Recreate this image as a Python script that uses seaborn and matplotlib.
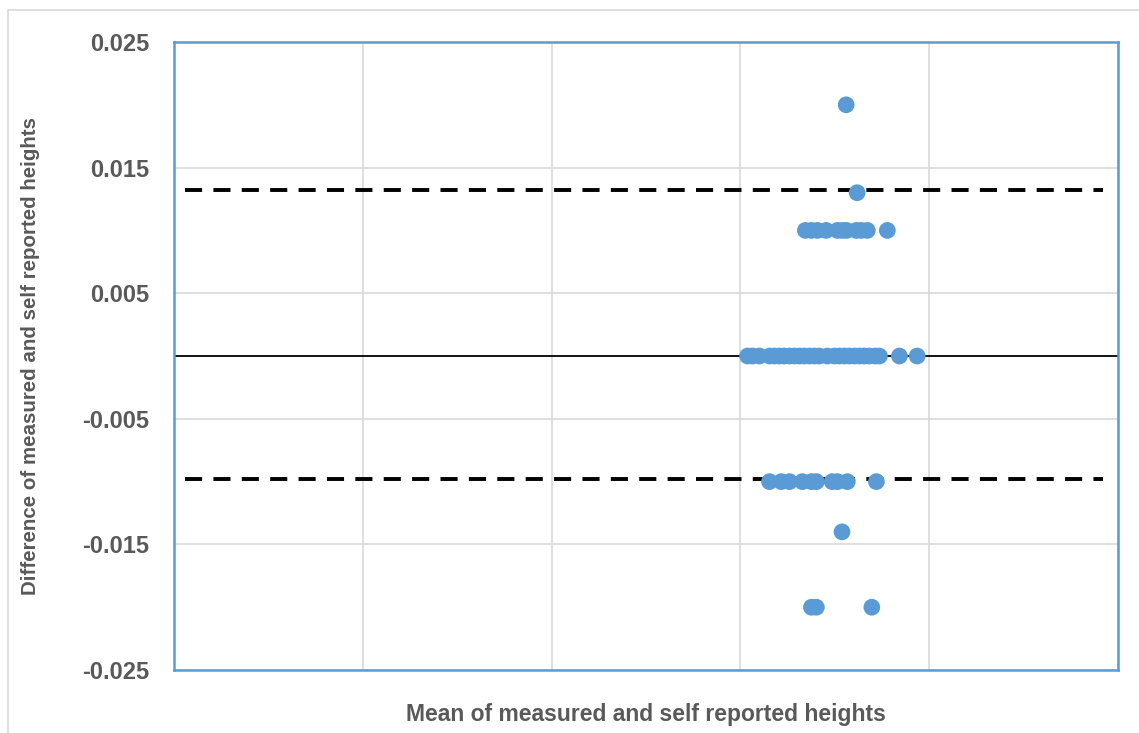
import pandas as pd
import numpy as np
import matplotlib.pyplot as plt
import seaborn as sns
from matplotlib.patches import Rectangle

# ------------------------------------------------------------
# Data (mean height in m, difference in m)
# ------------------------------------------------------------
mean_top = [1.780]
diff_top = [0.020]

mean_013 = [1.809]
diff_013 = [0.013]

mean_pos = [1.672, 1.688, 1.704, 1.727, 1.757, 1.770, 1.781, 1.807, 1.820, 1.836, 1.889]
diff_pos = [0.010] * len(mean_pos)

mean_zero = [1.519, 1.532, 1.550, 1.577, 1.590, 1.603, 1.616, 1.630, 1.643, 1.656,
             1.669, 1.683, 1.696, 1.709, 1.730, 1.749, 1.762, 1.775, 1.788, 1.802,
             1.815, 1.828, 1.841, 1.857, 1.868, 1.921, 1.968]
diff_zero = [0.0] * len(mean_zero)

mean_neg = [1.577, 1.608, 1.630, 1.664, 1.688, 1.701, 1.743, 1.757, 1.783, 1.860]
diff_neg = [-0.010] * len(mean_neg)

mean_014 = [1.769]
diff_014 = [-0.014]

mean_bottom = [1.688, 1.701, 1.848]
diff_bottom = [-0.020, -0.020, -0.020]

upper_loa = 0.0132
lower_loa = -0.0098
bias = 0.0

y_ticks = [-0.025, -0.015, -0.005, 0.005, 0.015, 0.025]
y_tick_labels = ['-0.025', '-0.015', '-0.005', '0.005', '0.015', '0.025']
x_grid = [0.0, 0.5, 1.0, 1.5, 2.0, 2.5]

df = pd.DataFrame({
    'mean': mean_top + mean_013 + mean_pos + mean_zero + mean_neg + mean_014 + mean_bottom,
    'diff': diff_top + diff_013 + diff_pos + diff_zero + diff_neg + diff_014 + diff_bottom,
})

# ------------------------------------------------------------
# Plot
# ------------------------------------------------------------
sns.set_style('white')
plt.rcParams['font.family'] = ['Liberation Sans', 'DejaVu Sans']

fig = plt.figure(figsize=(11.39, 7.33), dpi=100)
ax = fig.add_axes([0.1528, 0.0859, 0.8288, 0.8568])

# light outer frame of the chart
fig.patches.append(Rectangle((0.007, -0.01), 1.02, 0.997, transform=fig.transFigure,
                             fill=False, edgecolor='#D9D9D9', linewidth=1.2))

ax.set_xlim(x_grid[0], x_grid[-1])
ax.set_ylim(-0.025, 0.025)
ax.set_xticks(x_grid)
ax.set_xticklabels([])
ax.set_yticks(y_ticks)
ax.set_yticklabels(y_tick_labels)
ax.grid(True, color='#D9D9D9', linewidth=1.2)
ax.set_axisbelow(True)
ax.tick_params(axis='both', length=0)
ax.tick_params(axis='y', labelsize=17, labelcolor='#595959', pad=18)
for lbl in ax.get_yticklabels():
    lbl.set_fontweight('bold')

for s in ax.spines.values():
    s.set_color('#5B9BD5')
    s.set_linewidth(1.8)

ax.axhline(bias, color='black', linewidth=1.3, zorder=2)
ax.plot([0.03, 2.46], [upper_loa, upper_loa], color='black', linewidth=2.8,
        linestyle=(0, (4.4, 2.9)), zorder=2)
ax.plot([0.03, 2.46], [lower_loa, lower_loa], color='black', linewidth=2.8,
        linestyle=(0, (4.4, 2.9)), zorder=2)

sns.scatterplot(data=df, x='mean', y='diff', ax=ax, color='#5B9BD5', s=145,
                edgecolor='none', zorder=3, legend=False)

ax.set_xlabel('Mean of measured and self reported heights', fontsize=16.5,
              fontweight='bold', color='#595959', labelpad=20)
ax.set_ylabel('Difference of measured and self reported heights', fontsize=14.8,
              fontweight='bold', color='#595959', labelpad=30)

plt.savefig('out.png', dpi=100)
